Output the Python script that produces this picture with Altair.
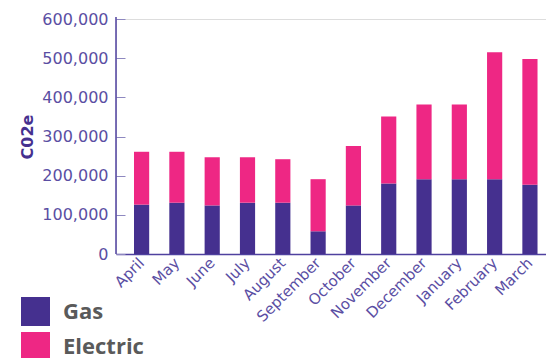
import altair as alt
import pandas as pd

months = ["April", "May", "June", "July", "August", "September", "October",
          "November", "December", "January", "February", "March"]
gas = [126000, 131000, 124000, 131000, 131000, 58000, 124000,
       180000, 191000, 191000, 191000, 177000]
electric = [135000, 130000, 123000, 116000, 111000, 133000, 152000,
            171000, 191000, 191000, 324000, 321000]
series = ["Gas", "Electric"]
colors = ["#45308f", "#ee2784"]
y_ticks = [0, 100000, 200000, 300000, 400000, 500000, 600000]

rows = []
for i, m in enumerate(months):
    rows.append({"month": m, "type": "Gas", "value": gas[i], "ord": 0})
    rows.append({"month": m, "type": "Electric", "value": electric[i], "ord": 1})
df = pd.DataFrame(rows)

W, H = 430, 235
axis_col = "#4f419f"
label_col = "#5a4ea3"

bars = alt.Chart(df).mark_bar().encode(
    x=alt.X("month:N", sort=months,
            scale=alt.Scale(paddingInner=0.57, paddingOuter=0.375, align=0.68),
            axis=alt.Axis(title=None, labelAngle=-45, labelAlign="right",
                          labelBaseline="middle", labelPadding=6, ticks=False,
                          domainColor=axis_col, domainWidth=1.5,
                          labelFont="DejaVu Sans", labelFontSize=15,
                          labelColor=label_col, labelOverlap=False, labelBound=False)),
    y=alt.Y("value:Q", stack="zero",
            scale=alt.Scale(domain=[0, 600000], nice=False),
            axis=alt.Axis(title="C02e", values=y_ticks, format=",.0f", grid=False,
                          domain=False, offset=-9, tickSize=9, tickColor="#8e88c0",
                          tickWidth=1, labelPadding=8,
                          labelFont="DejaVu Sans", labelFontSize=16,
                          labelColor=label_col,
                          titleFont="DejaVu Sans", titleFontSize=16,
                          titleFontWeight="bold", titleColor="#45308f",
                          titlePadding=6)),
    color=alt.Color("type:N",
                    scale=alt.Scale(domain=series, range=colors),
                    legend=alt.Legend(title=None, orient="none", legendX=-95, legendY=278,
                                      symbolType="square", symbolSize=841,
                                      symbolStrokeWidth=0, symbolOpacity=1,
                                      labelFont="Open Sans", labelFontSize=22,
                                      labelFontWeight="bold", labelColor="#5a5a5a",
                                      labelOffset=13, rowPadding=6, padding=0)),
    order=alt.Order("ord:Q", sort="ascending"),
)

yline = alt.Chart(alt.Data(values=[{"a": 1}])).mark_rule(
    color=axis_col, strokeWidth=1.5
).encode(x=alt.value(0), y=alt.value(-2), y2=alt.value(H))

chart = alt.layer(bars, yline).properties(
    width=W, height=H,
    autosize=alt.AutoSizeParams(type="none"),
    padding={"left": 116, "top": 19, "right": 0, "bottom": 104},
).configure_view(stroke=None).configure(background="white")

chart.save("out.html", embed_options={"renderer": "svg", "actions": False})
